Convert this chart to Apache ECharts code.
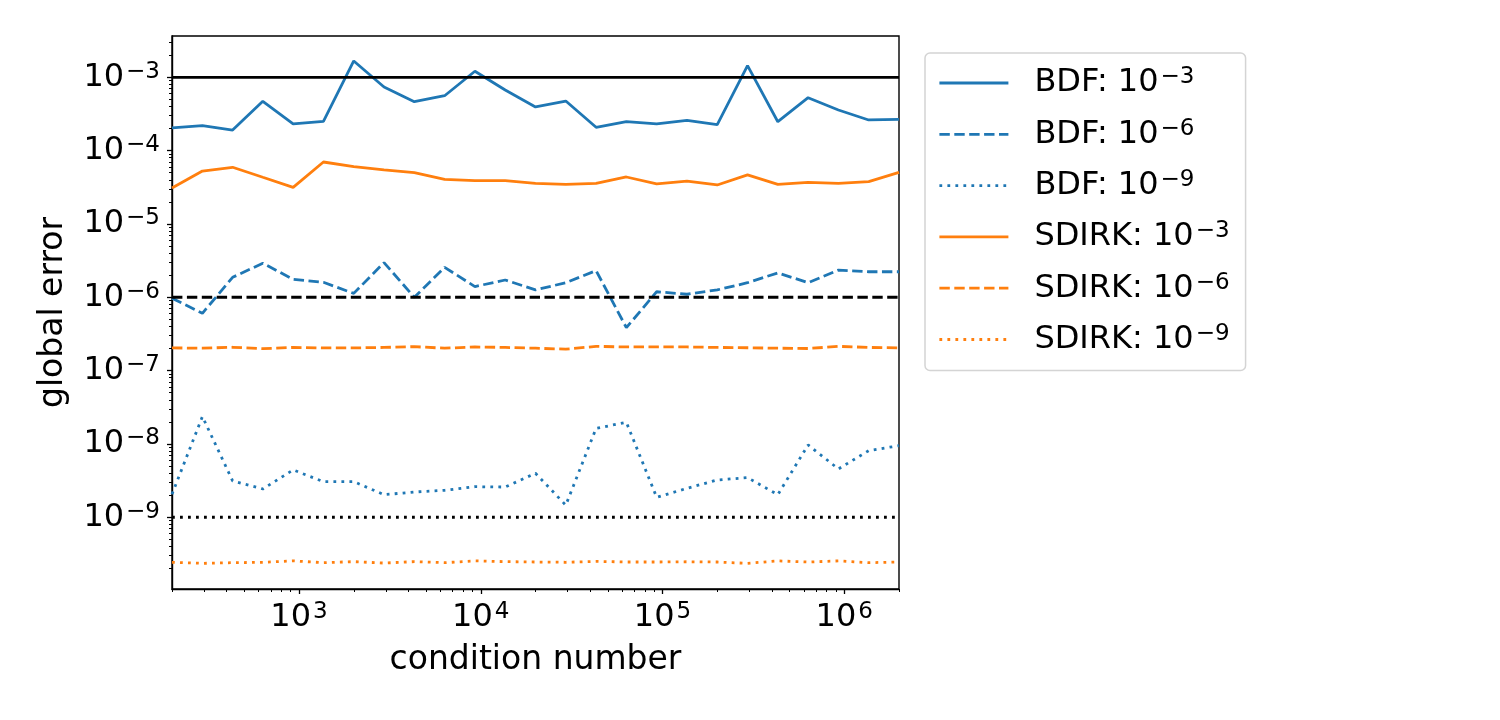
<!DOCTYPE html>
<html><head><meta charset="utf-8">
<script src="https://cdn.jsdelivr.net/npm/echarts@6/dist/echarts.min.js"></script>
<style>html,body{margin:0;padding:0;background:#fff}#c{width:1500px;height:720px}</style>
</head><body><div id="c"></div>
<script>
// ---- data ----
const conditionNumbers = [200, 294, 431, 632, 928, 1362, 2000, 2935, 4309, 6325, 9283, 13626, 20000, 29354, 43088, 63246, 92832, 136262, 200000, 293550, 430887, 632456, 928317, 1362566, 2000000];
const bdfTol3 = [2.04e-4, 2.19e-4, 1.91e-4, 4.71e-4, 2.31e-4, 2.51e-4, 1.67e-3, 7.38e-4, 4.65e-4, 5.61e-4, 1.21e-3, 6.71e-4, 3.94e-4, 4.75e-4, 2.08e-4, 2.48e-4, 2.31e-4, 2.59e-4, 2.26e-4, 1.44e-3, 2.48e-4, 5.27e-4, 3.58e-4, 2.62e-4, 2.67e-4];
const bdfTol6 = [9.7e-7, 6.05e-7, 1.87e-6, 2.91e-6, 1.76e-6, 1.60e-6, 1.13e-6, 2.97e-6, 1.0e-6, 2.56e-6, 1.40e-6, 1.72e-6, 1.26e-6, 1.58e-6, 2.31e-6, 3.85e-7, 1.19e-6, 1.10e-6, 1.26e-6, 1.58e-6, 2.15e-6, 1.58e-6, 2.35e-6, 2.23e-6, 2.23e-6];
const bdfTol9 = [2.06e-9, 2.36e-8, 3.13e-9, 2.43e-9, 4.42e-9, 3.06e-9, 3.06e-9, 2.03e-9, 2.21e-9, 2.33e-9, 2.61e-9, 2.58e-9, 3.98e-9, 1.46e-9, 1.63e-8, 1.97e-8, 1.87e-9, 2.48e-9, 3.22e-9, 3.47e-9, 2.03e-9, 9.68e-9, 4.56e-9, 8.09e-9, 9.46e-9];
const sdirkTol3 = [3.09e-5, 5.27e-5, 5.93e-5, 4.33e-5, 3.16e-5, 7.00e-5, 6.04e-5, 5.45e-5, 5.00e-5, 4.06e-5, 3.89e-5, 3.89e-5, 3.58e-5, 3.47e-5, 3.58e-5, 4.37e-5, 3.51e-5, 3.85e-5, 3.40e-5, 4.66e-5, 3.47e-5, 3.70e-5, 3.58e-5, 3.77e-5, 5.06e-5];
const sdirkTol6 = [2.04e-7, 2.02e-7, 2.08e-7, 1.99e-7, 2.07e-7, 2.04e-7, 2.04e-7, 2.07e-7, 2.12e-7, 2.02e-7, 2.10e-7, 2.07e-7, 2.02e-7, 1.96e-7, 2.14e-7, 2.10e-7, 2.10e-7, 2.10e-7, 2.07e-7, 2.05e-7, 2.02e-7, 2.00e-7, 2.14e-7, 2.07e-7, 2.04e-7];
const sdirkTol9 = [2.43e-10, 2.35e-10, 2.40e-10, 2.43e-10, 2.54e-10, 2.40e-10, 2.48e-10, 2.37e-10, 2.48e-10, 2.40e-10, 2.54e-10, 2.48e-10, 2.45e-10, 2.43e-10, 2.50e-10, 2.45e-10, 2.45e-10, 2.47e-10, 2.45e-10, 2.35e-10, 2.54e-10, 2.45e-10, 2.54e-10, 2.40e-10, 2.45e-10];
const seriesNames = ['BDF: 10^-3', 'BDF: 10^-6', 'BDF: 10^-9', 'SDIRK: 10^-3', 'SDIRK: 10^-6', 'SDIRK: 10^-9'];
const tolerances = [1e-3, 1e-6, 1e-9];
const xRange = [200, 2000000];
const yRange = [1.05e-10, 3.66e-3];
const xMajorTicks = [1e3, 1e4, 1e5, 1e6];
const yMajorTicks = [1e-9, 1e-8, 1e-7, 1e-6, 1e-5, 1e-4, 1e-3];
const xAxisTitle = 'condition number';
const yAxisTitle = 'global error';

// ---- minor ticks (2..9 x 10^n) ----
function minorTicks(lo, hi, range) {
  const out = [];
  for (let n = lo; n <= hi; n++) for (let k = 2; k <= 9; k++) {
    const v = k * Math.pow(10, n);
    if (v >= range[0] * 0.999 && v <= range[1] * 1.001) out.push(v);
  }
  return out;
}
const xMinorTicks = minorTicks(2, 6, xRange);
const yMinorTicks = minorTicks(-11, -3, yRange);

const FONT = 'DejaVu Sans';
const BLUE = '#1f77b4', ORANGE = '#ff7f0e';
const LW = 2.8;
const DASH = [10.4, 4.5], DOT = [2.8, 5.2];

const supRich = {
  b: { fontFamily: FONT, fontSize: 32, color: '#000', height: 36, lineHeight: 36 },
  s: { fontFamily: FONT, fontSize: 23, color: '#000', height: 25, lineHeight: 25, verticalAlign: 'top', padding: [0, 0, 0, 2] }
};
function powLabel(v) {
  const e = Math.round(Math.log10(v));
  return '{b|10}{s|' + (e < 0 ? '\u2212' + (-e) : String(e)) + '}';
}

const dataSets = [bdfTol3, bdfTol6, bdfTol9, sdirkTol3, sdirkTol6, sdirkTol9];
const colors = [BLUE, BLUE, BLUE, ORANGE, ORANGE, ORANGE];
const styles = ['solid', DASH, DOT, 'solid', DASH, DOT];

const series = dataSets.map((vals, i) => ({
  name: seriesNames[i], type: 'line', xAxisIndex: 0, yAxisIndex: 0,
  data: conditionNumbers.map((x, j) => [x, vals[j]]),
  symbol: 'none', showSymbol: false, color: colors[i],
  lineStyle: { color: colors[i], width: LW, type: styles[i], cap: 'butt' },
  itemStyle: { color: colors[i] },
  animation: false, z: 2
}));
const refStyles = ['solid', DASH, DOT];
tolerances.forEach((t, i) => {
  series.push({
    name: 'tol' + i, type: 'line', xAxisIndex: 0, yAxisIndex: 0,
    data: [[xRange[0], t], [xRange[1], t]],
    symbol: 'none', showSymbol: false, color: '#000',
    lineStyle: { color: '#000', width: LW, type: refStyles[i] },
    animation: false, z: 3, silent: true
  });
});

const chart = echarts.init(document.getElementById('c'), null, { renderer: 'canvas' });
chart.setOption({
  animation: false,
  backgroundColor: '#fff',
  grid: { left: 172, right: 601, top: 36, bottom: 131, show: true, borderColor: '#000', borderWidth: 1.4, backgroundColor: 'transparent' },
  legend: {
    data: seriesNames, orient: 'vertical', left: 925, top: 53,
    padding: [12, 16, 13, 13], itemGap: 15.3, itemWidth: 69, itemHeight: 14,
    backgroundColor: '#fff', borderColor: '#d4d4d4', borderWidth: 1.5, borderRadius: 5,
    selectedMode: false,
    itemStyle: { opacity: 0, borderWidth: 0 },
    lineStyle: { width: LW },
    formatter: function (name) {
      const m = name.match(/^(.*): 10\^(-?\d+)$/);
      return '{p|' + m[1] + ': 10}{s|' + m[2].replace('-', '\u2212') + '}';
    },
    textStyle: {
      rich: {
        p: { fontFamily: FONT, fontSize: 32, color: '#000', height: 36, lineHeight: 36, padding: [0, 0, 0, 21] },
        s: { fontFamily: FONT, fontSize: 23, color: '#000', height: 25, lineHeight: 25, verticalAlign: 'top', padding: [0, 0, 0, 2] }
      }
    }
  },
  xAxis: [
    {
      type: 'log', logBase: 10, min: xRange[0], max: xRange[1], position: 'bottom',
      name: xAxisTitle, nameLocation: 'middle', nameGap: 55,
      nameTextStyle: { fontFamily: FONT, fontSize: 33, color: '#000' },
      axisLine: { show: true, lineStyle: { color: '#000', width: 1.4 } },
      axisTick: { show: true, customValues: xMajorTicks, length: 5, lineStyle: { color: '#000', width: 1.3 } },
      axisLabel: { customValues: xMajorTicks, formatter: powLabel, margin: 11, rich: supRich },
      splitLine: { show: false }
    },
    {
      type: 'log', logBase: 10, min: xRange[0], max: xRange[1], position: 'bottom',
      axisLine: { show: false },
      axisTick: { show: true, customValues: xMinorTicks, length: 3, lineStyle: { color: '#000', width: 1 } },
      axisLabel: { show: false },
      splitLine: { show: false }
    }
  ],
  yAxis: [
    {
      type: 'log', logBase: 10, min: yRange[0], max: yRange[1], position: 'left',
      name: yAxisTitle, nameLocation: 'middle', nameGap: 102, nameRotate: 90,
      nameTextStyle: { fontFamily: FONT, fontSize: 33, color: '#000' },
      axisLine: { show: true, lineStyle: { color: '#000', width: 1.4 } },
      axisTick: { show: true, customValues: yMajorTicks, length: 5, lineStyle: { color: '#000', width: 1.3 } },
      axisLabel: { customValues: yMajorTicks, formatter: powLabel, margin: 12, rich: supRich },
      splitLine: { show: false }
    },
    {
      type: 'log', logBase: 10, min: yRange[0], max: yRange[1], position: 'left',
      axisLine: { show: false },
      axisTick: { show: true, customValues: yMinorTicks, length: 3, lineStyle: { color: '#000', width: 1 } },
      axisLabel: { show: false },
      splitLine: { show: false }
    }
  ],
  series: series
});
</script>
</body></html>
